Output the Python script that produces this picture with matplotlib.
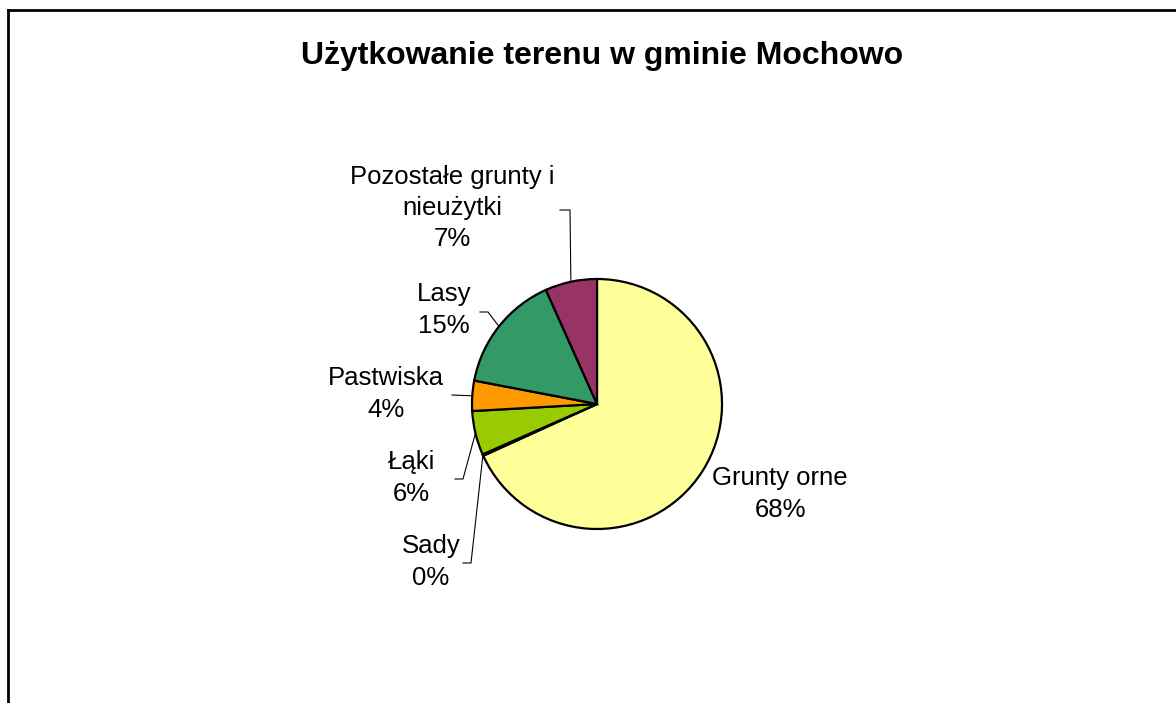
import numpy as np
import matplotlib
matplotlib.use("Agg")
import matplotlib.pyplot as plt
from matplotlib.lines import Line2D

plt.rcParams['font.family'] = ['Liberation Sans', 'DejaVu Sans']

# dane (udział w %)
categories = ['Grunty orne', 'Sady', 'Łąki', 'Pastwiska', 'Lasy', 'Pozostałe grunty i\nnieużytki']
values = [68.2, 0.2, 5.7, 3.9, 15.3, 6.7]
colors = ['#FFFF99', '#FFFFCC', '#99CC00', '#FF9900', '#339966', '#993366']

# rozmiar w pikselach, os w pikselach (y od dolu)
W, H = 1176, 703
fig = plt.figure(figsize=(W / 100, H / 100), dpi=100)
ax = fig.add_axes([0, 0, 1, 1])

cx, cy, r = 597, H - 404, 125
wedges, _ = ax.pie(values, colors=colors, startangle=90, counterclock=False,
                   center=(cx, cy), radius=r,
                   wedgeprops=dict(edgecolor='black', linewidth=1.6))
ax.set_xlim(0, W)
ax.set_ylim(0, H)
ax.set_aspect('equal')
ax.axis('off')

# polozenie etykiet (srodek bloku tekstu) i zalamanie linii odniesienia
label_pos = [(780, 494), (431, 562), (411, 478), (386, 394), (444, 310), (452, 208)]
stub = [None, (463, 471, 563), (455, 463, 479), (452, 452, 395),
        (480, 488, 312), (560, 570, 210)]

total = sum(values)
for w, name, v, pos, st in zip(wedges, categories, values, label_pos, stub):
    pct = round(v / total * 100)
    ax.text(pos[0], H - pos[1], f"{name}\n{pct}%", ha='center', va='center',
            fontsize=18.5, linespacing=1.38)
    if st is not None:
        mid = np.deg2rad((w.theta1 + w.theta2) / 2)
        px = cx + r * np.cos(mid)
        py = cy + r * np.sin(mid)
        ax.plot([st[0], st[1], px], [H - st[2], H - st[2], py],
                color='black', linewidth=0.8)

fig.text(602 / W, 1 - 56 / H, 'Użytkowanie terenu w gminie Mochowo',
         ha='center', va='center', fontsize=23, fontweight='bold')

# ramka wykresu
fig.add_artist(Line2D([8 / W, 8 / W], [0, 1 - 10 / H], color='black', linewidth=2,
                      transform=fig.transFigure))
fig.add_artist(Line2D([8 / W, 1], [1 - 10 / H, 1 - 10 / H], color='black', linewidth=2,
                      transform=fig.transFigure))

fig.savefig('out.png', dpi=100, facecolor='white')
